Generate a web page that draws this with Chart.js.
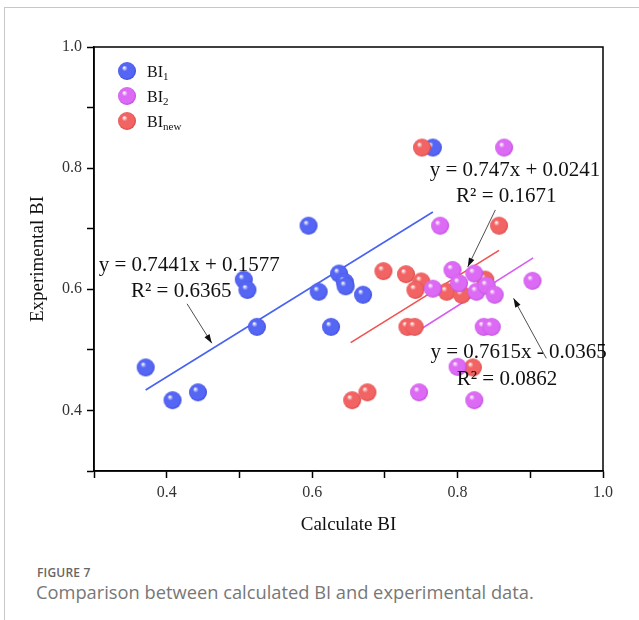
<!DOCTYPE html>
<html>
<head>
<meta charset="utf-8">
<script src="https://cdn.jsdelivr.net/npm/chart.js@4.4.0/dist/chart.umd.min.js"></script>
<style>
body { margin: 0; background: #fff; width: 639px; height: 620px; overflow: hidden; position: relative; }
#frame { position: absolute; left: 4px; top: 7px; width: 700px; height: 700px; border-left: 1px solid #c8c8c8; border-top: 1px solid #c8c8c8; }
#wrap { position: absolute; left: 0; top: 0; width: 639px; height: 550px; }
.fig { position: absolute; left: 37px; top: 564px; font: 600 12px "Open Sans"; color: #666; letter-spacing: 0.2px; }
.cap { position: absolute; left: 36px; top: 579px; font: 400 18.3px "Open Sans"; color: #777; }
</style>
</head>
<body>
<div id="frame"></div>
<div id="wrap"><canvas id="myChart" width="639" height="550"></canvas></div>
<div class="fig">FIGURE 7</div>
<div class="cap">Comparison between calculated BI and experimental data.</div>
<script>
// BI1 points
const bi1X = [0.371, 0.408, 0.443, 0.506, 0.511, 0.524, 0.595, 0.609, 0.637, 0.645, 0.646, 0.670, 0.626, 0.766];
const bi1Y = [0.471, 0.417, 0.430, 0.616, 0.599, 0.538, 0.705, 0.596, 0.626, 0.612, 0.605, 0.591, 0.538, 0.834];
// BI2 points
const bi2X = [0.864, 0.776, 0.793, 0.766, 0.802, 0.823, 0.826, 0.840, 0.851, 0.903, 0.836, 0.847, 0.800, 0.747, 0.823];
const bi2Y = [0.834, 0.705, 0.632, 0.601, 0.610, 0.626, 0.596, 0.606, 0.591, 0.614, 0.538, 0.538, 0.472, 0.430, 0.417];
// BInew points
const biNewX = [0.751, 0.857, 0.698, 0.729, 0.750, 0.742, 0.785, 0.806, 0.838, 0.731, 0.741, 0.821, 0.655, 0.676];
const biNewY = [0.834, 0.705, 0.630, 0.625, 0.613, 0.599, 0.596, 0.591, 0.616, 0.538, 0.538, 0.471, 0.417, 0.430];

// linear fits shown on the figure: slope, intercept, x range
const fitSlope = [0.7441, 0.7615, 0.747];
const fitIntercept = [0.1577, -0.0365, 0.0241];
const fitXStart = [0.371, 0.747, 0.653];
const fitXEnd = [0.766, 0.904, 0.857];

const seriesNames = ['1', '2', 'new'];
const ballColors = [['#5566f4', '#2f3fd0'], ['#dc6af4', '#b23fd6'], ['#f26464', '#d03c3c']];
const lineColors = ['#4862f2', '#d65cf2', '#f0524f'];

function makeBall(base, dark) {
    const c = document.createElement('canvas');
    c.width = 20; c.height = 20;
    const g = c.getContext('2d');
    const grad = g.createRadialGradient(7, 6.5, 0.3, 10, 10, 9.5);
    grad.addColorStop(0, '#ffffff');
    grad.addColorStop(0.28, base);
    grad.addColorStop(0.8, base);
    grad.addColorStop(1, dark);
    g.fillStyle = grad;
    g.beginPath();
    g.arc(10, 10, 9, 0, Math.PI * 2);
    g.fill();
    return c;
}
const balls = ballColors.map(c => makeBall(c[0], c[1]));

const pts = (xs, ys) => xs.map((x, i) => ({x: x, y: ys[i]}));
const fitLine = i => [
    {x: fitXStart[i], y: fitSlope[i] * fitXStart[i] + fitIntercept[i]},
    {x: fitXEnd[i], y: fitSlope[i] * fitXEnd[i] + fitIntercept[i]}
];

// text labels and arrows, in data coordinates
const notes = [
    {text: 'y = 0.7441x + 0.1577', x: 0.431, y: 0.640},
    {text: 'R\u00b2 = 0.6365', x: 0.420, y: 0.597},
    {text: 'y = 0.747x + 0.0241', x: 0.879, y: 0.796},
    {text: 'R\u00b2 = 0.1671', x: 0.867, y: 0.753},
    {text: 'y = 0.7615x - 0.0365', x: 0.884, y: 0.495},
    {text: 'R\u00b2 = 0.0862', x: 0.868, y: 0.451}
];
const arrows = [
    [0.428, 0.576, 0.462, 0.511],
    [0.852, 0.731, 0.814, 0.637],
    [0.922, 0.486, 0.877, 0.585]
];

const serif = '"Liberation Serif", "Times New Roman", serif';

const boxPlugin = {
    id: 'box',
    afterDraw(chart) {
        const {ctx, chartArea: a} = chart;
        ctx.save();
        ctx.strokeStyle = '#000';
        ctx.lineWidth = 1.5;
        ctx.strokeRect(a.left, a.top, a.right - a.left, a.bottom - a.top);
        ctx.restore();
    }
};

const notesPlugin = {
    id: 'notes',
    afterDatasetsDraw(chart) {
        const {ctx, scales: {x, y}} = chart;
        ctx.save();
        ctx.fillStyle = '#111';
        ctx.font = '21px ' + serif;
        ctx.textAlign = 'center';
        ctx.textBaseline = 'middle';
        notes.forEach(n => ctx.fillText(n.text, x.getPixelForValue(n.x), y.getPixelForValue(n.y)));
        ctx.strokeStyle = '#222';
        ctx.lineWidth = 0.8;
        arrows.forEach(a => {
            const x1 = x.getPixelForValue(a[0]), y1 = y.getPixelForValue(a[1]);
            const x2 = x.getPixelForValue(a[2]), y2 = y.getPixelForValue(a[3]);
            const ang = Math.atan2(y2 - y1, x2 - x1);
            ctx.beginPath();
            ctx.moveTo(x1, y1);
            ctx.lineTo(x2, y2);
            ctx.stroke();
            ctx.beginPath();
            ctx.moveTo(x2, y2);
            ctx.lineTo(x2 - 9 * Math.cos(ang) + 3 * Math.sin(ang), y2 - 9 * Math.sin(ang) - 3 * Math.cos(ang));
            ctx.lineTo(x2 - 9 * Math.cos(ang) - 3 * Math.sin(ang), y2 - 9 * Math.sin(ang) + 3 * Math.cos(ang));
            ctx.closePath();
            ctx.fillStyle = '#111';
            ctx.fill();
        });
        ctx.restore();
    }
};

const legendPlugin = {
    id: 'ballLegend',
    afterDraw(chart) {
        const {ctx, chartArea: a} = chart;
        ctx.save();
        ctx.fillStyle = '#111';
        ctx.textBaseline = 'alphabetic';
        seriesNames.forEach((s, i) => {
            const cy = a.top + 24 + i * 25;
            ctx.drawImage(balls[i], a.left + 23, cy - 10);
            ctx.font = '16px ' + serif;
            ctx.fillText('BI', a.left + 53, cy + 6);
            const w = ctx.measureText('BI').width;
            ctx.font = '11px ' + serif;
            ctx.fillText(s, a.left + 53 + w, cy + 9);
        });
        ctx.restore();
    }
};

function axis(title, pad) {
    return {
        type: 'linear',
        min: 0.3,
        max: 1.0,
        ticks: {
            stepSize: 0.1,
            color: '#333',
            font: {family: serif, size: 16},
            padding: 5,
            callback: v => Math.round(v * 10) % 2 === 0 ? v.toFixed(1) : ''
        },
        grid: {drawOnChartArea: false, drawTicks: true, tickLength: 7, tickColor: '#000', tickWidth: 1.5},
        border: {display: true, color: '#000', width: 1.5},
        title: {display: true, text: title, color: '#111', font: {family: serif, size: 19}, padding: pad}
    };
}

const xAxis = axis('Calculate BI', {top: 0, bottom: 14});
xAxis.afterFit = s => { s.height = 79; };
const yAxis = axis('Experimental BI', {top: 27, bottom: 0});
yAxis.afterFit = s => { s.width = 94; };

const ctx = document.getElementById('myChart').getContext('2d');
const chart = new Chart(ctx, {
    type: 'scatter',
    data: {
        datasets: [
            {label: 'BI1', data: pts(bi1X, bi1Y), pointStyle: balls[0], order: 3},
            {label: 'BI2', data: pts(bi2X, bi2Y), pointStyle: balls[1], order: 1},
            {label: 'BInew', data: pts(biNewX, biNewY), pointStyle: balls[2], order: 2},
            {label: 'fit1', data: fitLine(0), showLine: true, pointRadius: 0, borderColor: lineColors[0], borderWidth: 1.6, order: 10},
            {label: 'fit2', data: fitLine(1), showLine: true, pointRadius: 0, borderColor: lineColors[1], borderWidth: 1.6, order: 10},
            {label: 'fitNew', data: fitLine(2), showLine: true, pointRadius: 0, borderColor: lineColors[2], borderWidth: 1.6, order: 10}
        ]
    },
    options: {
        responsive: false,
        animation: false,
        events: [],
        layout: {padding: {top: 47, right: 36, left: 0, bottom: 0}},
        plugins: {legend: {display: false}, tooltip: {enabled: false}},
        scales: {x: xAxis, y: yAxis}
    },
    plugins: [boxPlugin, notesPlugin, legendPlugin]
});
</script>
</body>
</html>
